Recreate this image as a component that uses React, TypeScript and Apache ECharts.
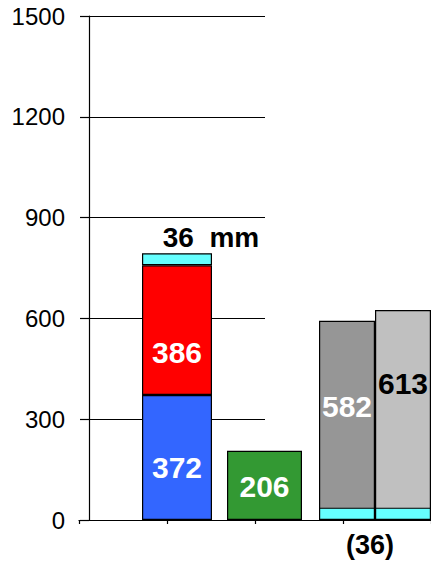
import React, { useEffect, useRef } from "react";
import * as echarts from "echarts";

// Data
const blueValues = [372];
const redValues = [386];
const cyanTopValues = [36];
const greenValues = [206];
const grayDarkValues = [582];
const grayLightValues = [613];
const cyanBaseValues = [36, 36];
const groupLabel = `(${cyanBaseValues[0]})`;
const yMin = 0;
const yMax = 1500;
const yInterval = 300;
const grayAxisMax = 1472;
const axisCategories = ["", "", "", ""];

const FONT = "Liberation Sans, Arial, Helvetica, sans-serif";

export default function App() {
  const ref = useRef<HTMLDivElement>(null);

  useEffect(() => {
    document.body.style.margin = "0";
    if (!ref.current) return;
    const chart = echarts.init(ref.current, null, { renderer: "svg" });
    const border = { borderColor: "#000", borderWidth: 1.2 };
    const bigLabel = (color: string, dy: number) => ({
      show: true,
      position: "inside",
      offset: [0, dy],
      color,
      fontSize: 30,
      fontWeight: "bold",
      fontFamily: FONT,
    });

    const option: any = {
      animation: false,
      backgroundColor: "#fff",
      grid: [
        { left: 89, top: 16, width: 176, height: 504 },
        { left: 227, top: 16, width: 75, height: 504 },
        { left: 319, top: 16, width: 112, height: 504 },
        { left: 79, top: 16, width: 376, height: 504 },
      ],
      xAxis: [
        { type: "category", gridIndex: 0, data: ["a"], show: false },
        { type: "category", gridIndex: 1, data: ["b"], show: false },
        {
          type: "category",
          gridIndex: 2,
          data: [groupLabel],
          axisLine: { show: false },
          axisTick: { show: false },
          axisLabel: {
            show: true,
            margin: 11,
            color: "#000",
            fontSize: 27,
            fontWeight: "bold",
            fontFamily: FONT,
            padding: [0, 10, 0, 0],
          },
        },
        { type: "category", gridIndex: 2, data: [groupLabel], show: false },
        {
          type: "category",
          gridIndex: 3,
          data: axisCategories,
          boundaryGap: true,
          axisLine: { show: true, lineStyle: { color: "#000", width: 1.2 } },
          axisTick: {
            show: true,
            length: 4,
            lineStyle: { color: "#000", width: 1.2 },
            interval: 0,
          },
          axisLabel: { show: false },
        },
      ],
      yAxis: [
        {
          type: "value",
          gridIndex: 0,
          min: yMin,
          max: yMax,
          interval: yInterval,
          axisLine: { show: true, lineStyle: { color: "#000", width: 1.2 } },
          axisTick: { show: true, length: 9, lineStyle: { color: "#000", width: 1.2 } },
          axisLabel: {
            margin: 24,
            color: "#000",
            fontSize: 24,
            fontFamily: FONT,
            formatter: (v: number) => String(v),
          },
          splitLine: { show: true, lineStyle: { color: "#000", width: 1.2 } },
        },
        { type: "value", gridIndex: 1, min: yMin, max: yMax, show: false },
        { type: "value", gridIndex: 2, min: 0, max: grayAxisMax, show: false },
        { type: "value", gridIndex: 3, min: yMin, max: yMax, show: false },
      ],
      series: [
        {
          type: "bar",
          xAxisIndex: 0,
          yAxisIndex: 0,
          stack: "main",
          barWidth: 70,
          data: blueValues,
          itemStyle: { color: "#3366FF", ...border },
          label: bigLabel("#fff", 10),
        },
        {
          type: "bar",
          xAxisIndex: 0,
          yAxisIndex: 0,
          stack: "main",
          barWidth: 70,
          data: redValues,
          itemStyle: { color: "#FF0000", ...border },
          label: bigLabel("#fff", 22),
        },
        {
          type: "bar",
          xAxisIndex: 0,
          yAxisIndex: 0,
          stack: "main",
          barWidth: 70,
          data: cyanTopValues,
          itemStyle: { color: "#66FFFF", ...border },
          label: {
            show: true,
            position: "top",
            distance: 5,
            offset: [34, 3],
            formatter: (p: any) => `${p.value}  mm`,
            color: "#000",
            fontSize: 28,
            fontWeight: "bold",
            fontFamily: FONT,
          },
        },
        {
          type: "bar",
          xAxisIndex: 1,
          yAxisIndex: 1,
          barCategoryGap: "0%",
          data: greenValues,
          itemStyle: { color: "#339933", ...border },
          label: bigLabel("#fff", 1),
        },
        {
          type: "bar",
          xAxisIndex: 2,
          yAxisIndex: 2,
          barGap: "0%",
          barCategoryGap: "0%",
          data: grayDarkValues,
          itemStyle: { color: "#969696", ...border },
          label: bigLabel("#fff", -14),
        },
        {
          type: "bar",
          xAxisIndex: 2,
          yAxisIndex: 2,
          barGap: "0%",
          barCategoryGap: "0%",
          data: grayLightValues,
          itemStyle: { color: "#C0C0C0", ...border },
          label: bigLabel("#000", -32),
        },
        ...cyanBaseValues.map((v) => ({
          type: "bar",
          xAxisIndex: 3,
          yAxisIndex: 2,
          barGap: "0%",
          barCategoryGap: "0%",
          z: 3,
          data: [v],
          itemStyle: { color: "#66FFFF", ...border },
        })),
      ],
    };

    chart.setOption(option);
    return () => chart.dispose();
  }, []);

  return <div ref={ref} style={{ width: 431, height: 564 }} />;
}
